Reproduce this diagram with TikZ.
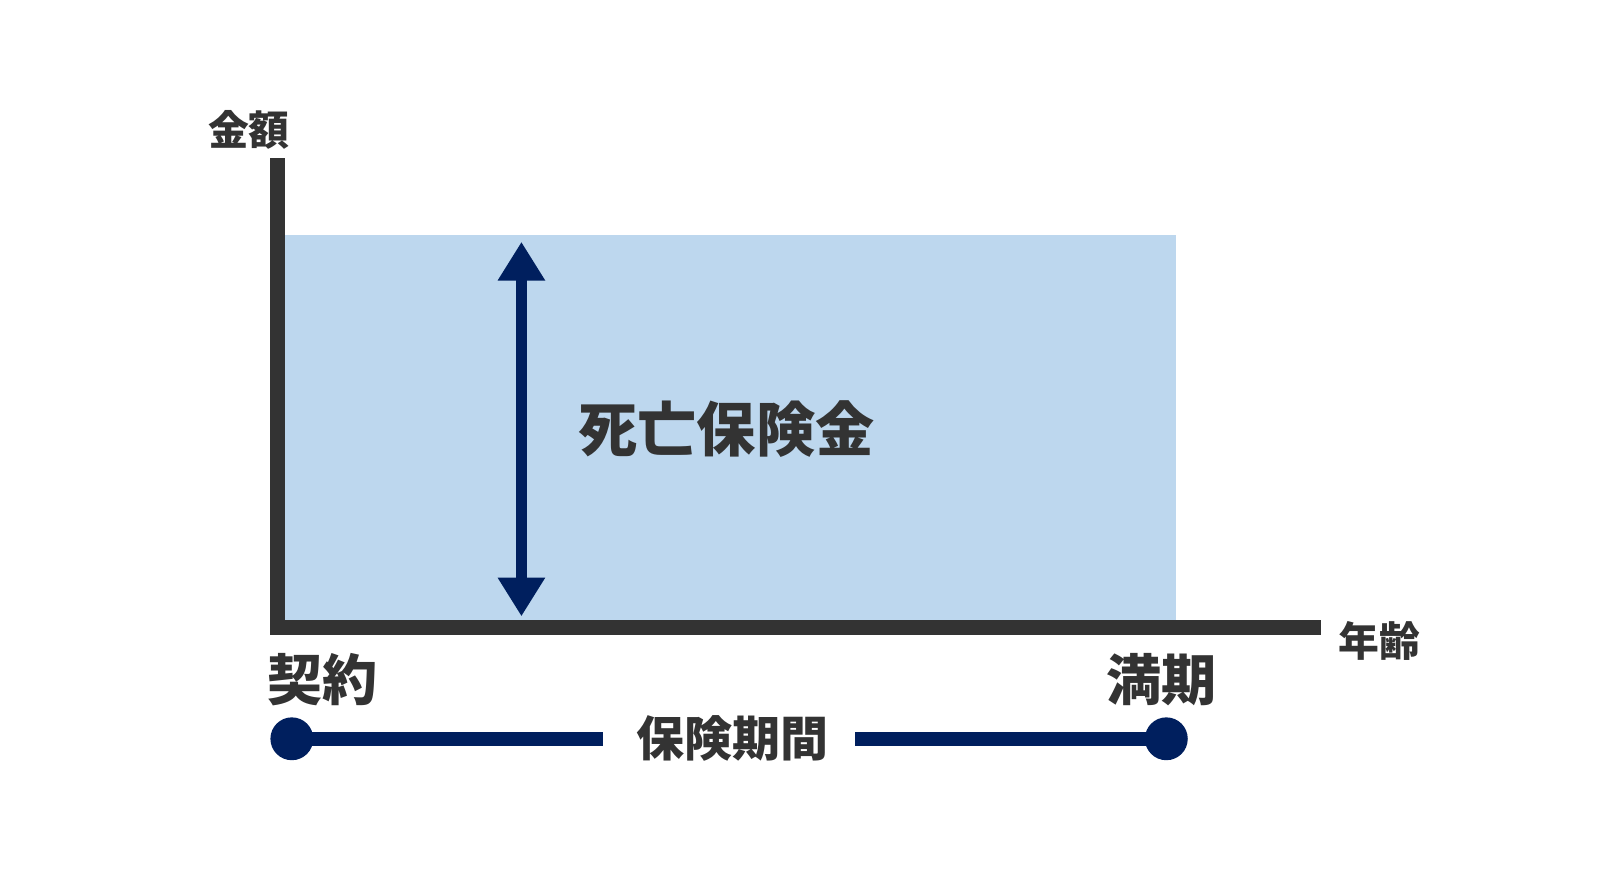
\documentclass[tikz,border=0pt]{standalone}
\usepackage{fontspec}
\newfontfamily\cjk{Noto Sans CJK JP}
\usetikzlibrary{arrows.meta}
\definecolor{navy}{HTML}{001F5E}
\definecolor{fillb}{HTML}{BDD7EE}
\definecolor{ax}{HTML}{333333}
\tikzset{lbl/.style={text=ax,font=\cjk\bfseries,inner sep=0pt}}
\begin{document}
\begin{tikzpicture}[x=0.5pt,y=-0.5pt]
\useasboundingbox (0,0) rectangle (1568,873);
\fill[fillb] (279,230) rectangle (1152,608);
\draw[ax,line width=7pt] (272,155) -- (272,615) -- (1295,615);
\coordinate (at) at (511,237);
\coordinate (ab) at (511,604);
\draw[navy,line width=5pt,{Triangle[width=22pt,length=19pt]}-{Triangle[width=22pt,length=19pt]}] (at) -- (ab);
\node[lbl,font=\cjk\bfseries\fontsize{29}{29}\selectfont] (dk) at (712,420) {死亡保険金};
\node[lbl,font=\cjk\bfseries\fontsize{20}{20}\selectfont] (ky) at (244,127) {金額};
\node[lbl,font=\cjk\bfseries\fontsize{20}{20}\selectfont] (ne) at (1352,628) {年齢};
\node[lbl,font=\cjk\bfseries\fontsize{27}{27}\selectfont] (ke) at (316,666) {契約};
\node[lbl,font=\cjk\bfseries\fontsize{27}{27}\selectfont] (ma) at (1138,666) {満期};
\node[lbl,font=\cjk\bfseries\fontsize{23.5}{23.5}\selectfont] (hk) at (718,724) {保険期間};
\node[circle,fill=navy,minimum size=21pt,inner sep=0pt] (d1) at (286,724) {};
\node[circle,fill=navy,minimum size=21pt,inner sep=0pt] (d2) at (1143,724) {};
\draw[navy,line width=7pt] (d1.center) -- (591,724);
\draw[navy,line width=7pt] (838,724) -- (d2.center);
\end{tikzpicture}
\end{document}
